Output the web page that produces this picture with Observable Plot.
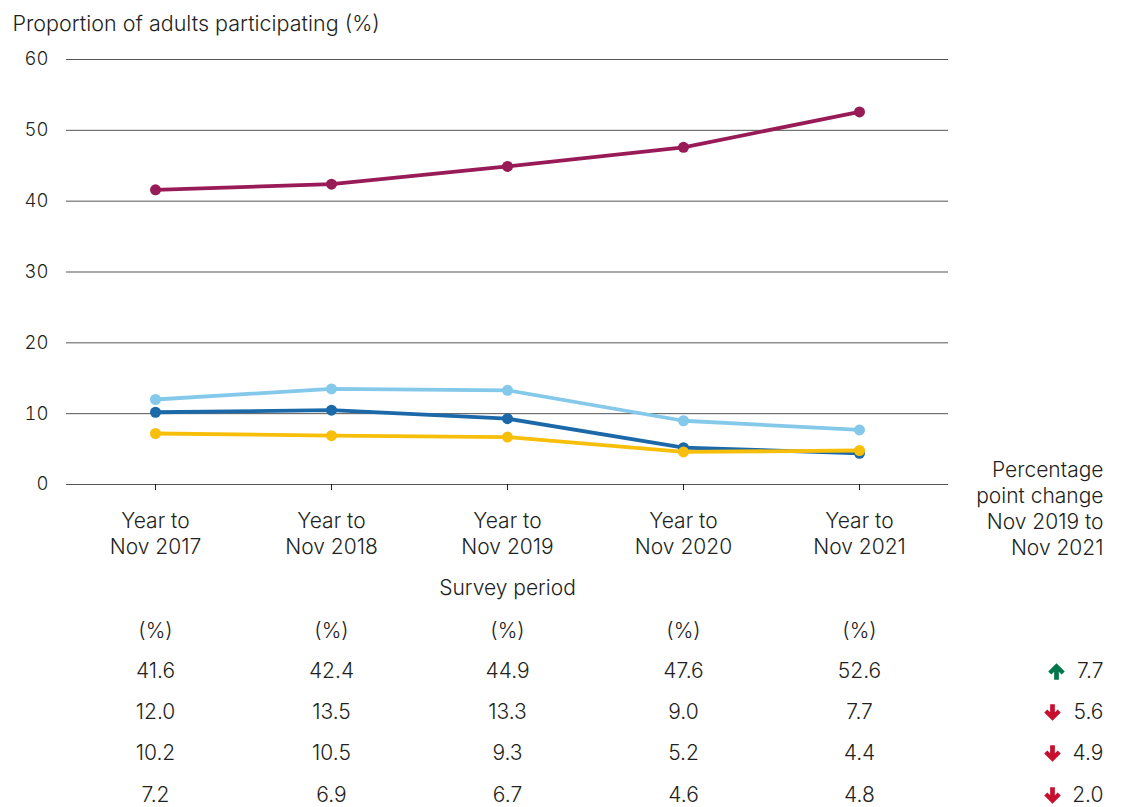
<!DOCTYPE html>
<html><head><meta charset="utf-8">
<script src="https://cdn.jsdelivr.net/npm/d3@7"></script>
<script src="https://cdn.jsdelivr.net/npm/@observablehq/plot@0.6"></script>
<style>body{margin:0;background:#fff}</style>
</head><body><div id="chart"></div>
<script>
const periods = ["Nov 2017", "Nov 2018", "Nov 2019", "Nov 2020", "Nov 2021"];
const yTicks = [0, 10, 20, 30, 40, 50, 60];
const seriesPurple = [41.6, 42.4, 44.9, 47.6, 52.6];
const seriesLightBlue = [12.0, 13.5, 13.3, 9.0, 7.7];
const seriesDarkBlue = [10.2, 10.5, 9.3, 5.2, 4.4];
const seriesYellow = [7.2, 6.9, 6.7, 4.6, 4.8];
const changes = [7.7, -5.6, -4.9, -2.0];
const colors = ["#981b57", "#84c8ea", "#1b69a8", "#f8bf0a"];
const seriesList = [seriesPurple, seriesLightBlue, seriesDarkBlue, seriesYellow];

const FONT = "Inter, 'Liberation Sans', Arial, sans-serif";
const INK = "#231f20";
const FS = 21;

const k = 1.18;
const arrowUp = {draw(ctx) {
  const p = [[0,-7],[7,0],[4.4,2.6],[2,0.2],[2,7],[-2,7],[-2,0.2],[-4.4,2.6],[-7,0]];
  p.forEach(([x, y], i) => i ? ctx.lineTo(x * k, y * k) : ctx.moveTo(x * k, y * k));
  ctx.closePath();
}};
const arrowDown = {draw(ctx) {
  const p = [[0,7],[7,0],[4.4,-2.6],[2,-0.2],[2,-7],[-2,-7],[-2,-0.2],[-4.4,-2.6],[-7,0]];
  p.forEach(([x, y], i) => i ? ctx.lineTo(x * k, y * k) : ctx.moveTo(x * k, y * k));
  ctx.closePath();
}};

const rowDy = [187, 228, 269, 311];

const marks = [
  Plot.ruleY(yTicks, {stroke: "#555", strokeWidth: 1}),
  Plot.axisY({ticks: yTicks, tickSize: 0, tickPadding: 18, fontSize: 18.5, fill: INK, label: null}),
  Plot.axisX({tickSize: 6, tickPadding: 19, fontSize: FS, fill: INK, stroke: INK, lineHeight: 1.24,
    tickFormat: d => "Year to\n" + d, label: null}),
  Plot.text(["Proportion of adults participating (%)"], {frameAnchor: "top-left", text: d => d,
    textAnchor: "start", lineAnchor: "middle", dx: -54, dy: -35, fontSize: 21.5, fill: INK}),
  Plot.text(["Survey period"], {frameAnchor: "bottom", text: d => d, lineAnchor: "middle",
    dy: 104, fontSize: FS, fill: INK}),
  Plot.text(["Percentage\npoint change\nNov 2019 to\nNov 2021"], {frameAnchor: "bottom-right", text: d => d,
    textAnchor: "end", lineAnchor: "middle", lineHeight: 1.24, dx: 155, dy: 23, fontSize: FS, fill: INK}),
  Plot.text(periods, {x: d => d, frameAnchor: "bottom", text: () => "(%)", lineAnchor: "middle",
    dy: 147, fontSize: FS, fill: INK})
];

seriesList.forEach((vals, i) => {
  const data = periods.map((p, j) => ({period: p, value: vals[j]}));
  marks.push(Plot.line(data, {x: "period", y: "value", stroke: colors[i], strokeWidth: 3.8}));
  marks.push(Plot.dot(data, {x: "period", y: "value", fill: colors[i], r: 5.5}));
  marks.push(Plot.text(data, {x: "period", frameAnchor: "bottom", text: d => d.value.toFixed(1),
    lineAnchor: "middle", dy: rowDy[i], fontSize: FS, fill: INK}));
  const c = changes[i];
  marks.push(Plot.text([c], {frameAnchor: "bottom-right", text: d => Math.abs(d).toFixed(1),
    textAnchor: "end", lineAnchor: "middle", dx: 155, dy: rowDy[i], fontSize: FS, fill: INK}));
  marks.push(Plot.dot([c], {frameAnchor: "bottom-right", symbol: c >= 0 ? arrowUp : arrowDown,
    fill: c >= 0 ? "#00774a" : "#c8102e", stroke: "none", r: 4, dx: c >= 0 ? 108 : 104, dy: rowDy[i]}));
});

const chart = Plot.plot({
  width: 1122, height: 807,
  marginTop: 59, marginLeft: 66, marginRight: 174, marginBottom: 323,
  style: {fontFamily: FONT, fontSize: "21px", fontWeight: 350, color: INK, background: "#fff"},
  x: {type: "point", domain: periods, padding: 0.5},
  y: {domain: [0, 60]},
  marks
});
document.getElementById("chart").append(chart);
</script></body></html>
